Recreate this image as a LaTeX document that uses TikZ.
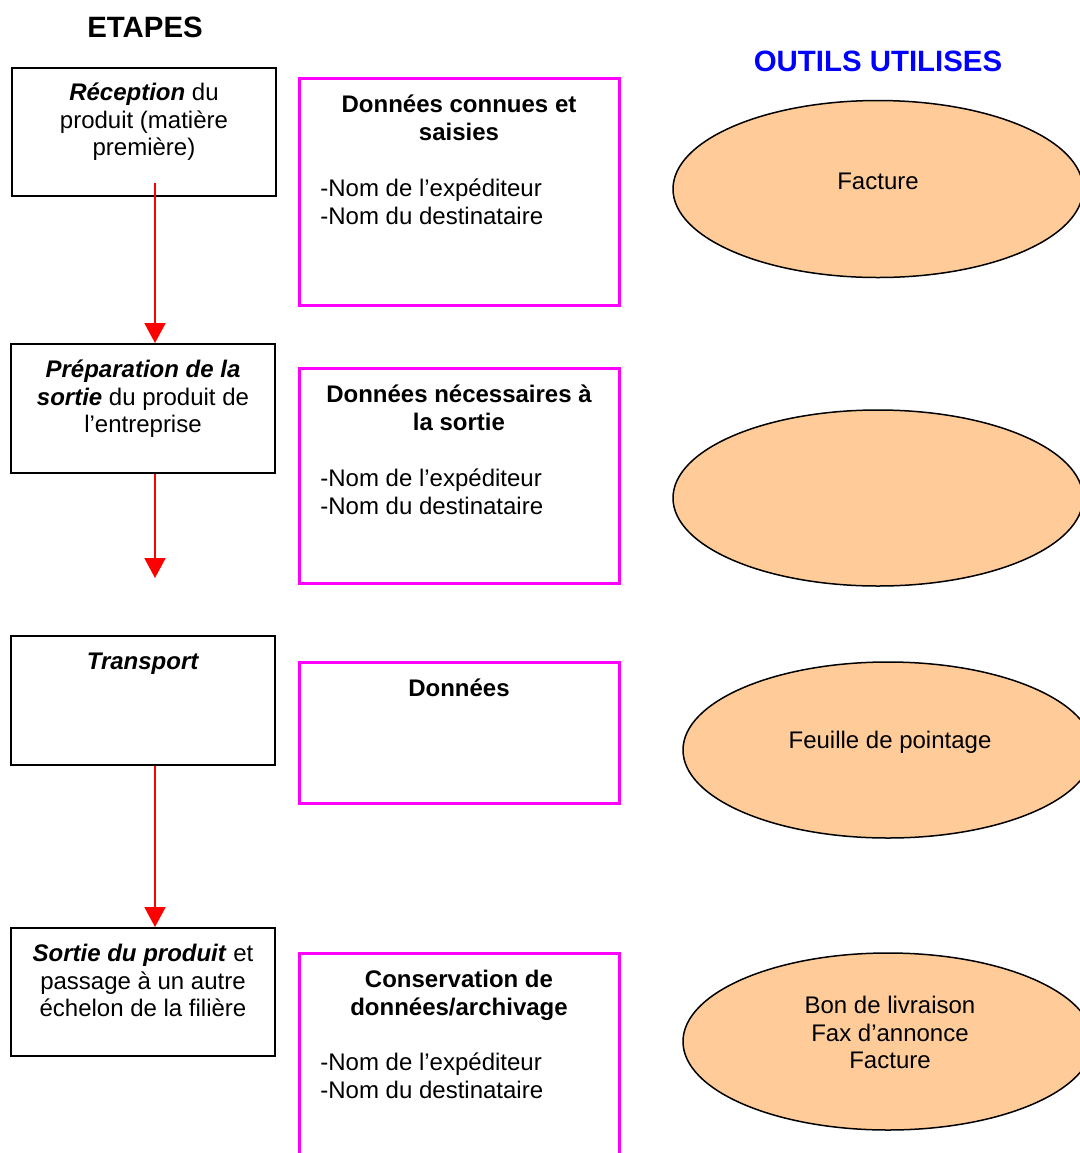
\documentclass[tikz,border=0pt]{standalone}
\usepackage{fontspec}
\setmainfont{Liberation Sans}
\usetikzlibrary{arrows.meta,shapes.geometric}
\definecolor{peach}{RGB}{255,204,153}
\definecolor{framemag}{RGB}{255,0,255}
\definecolor{headblue}{RGB}{0,0,255}

\begin{document}
\begin{tikzpicture}[x=0.5pt,y=-0.5pt,
  every node/.style={font=\fontsize{12pt}{13.8pt}\selectfont, inner sep=0pt},
  stepbox/.style={rectangle, draw=black, line width=1pt, minimum width=132pt},
  databox/.style={rectangle, draw=framemag, line width=1.5pt, minimum width=160pt},
  toolell/.style={ellipse, draw=black, line width=0.75pt, fill=peach, minimum width=205pt},
  flow/.style={draw=red, line width=1pt, -{Triangle[width=10.5pt,length=10pt]}},
  txt/.style={align=center, anchor=north},
  lst/.style={align=left, anchor=north west},
  heading/.style={font=\fontsize{14.7pt}{16pt}\selectfont\bfseries, anchor=base}
]
\clip (0,0) rectangle (1080,1153);

% column headings
\node[heading] (hsteps) at (145,37) {ETAPES};
\node[heading, text=headblue] (htools) at (878,71) {OUTILS UTILISES};

% steps (left column)
\node[stepbox, minimum height=64pt] (r1) at (144,132) {};
\node[stepbox, minimum height=64.5pt] (r2) at (143,408.5) {};
\node[stepbox, minimum height=64.5pt] (r3) at (143,700.5) {};
\node[stepbox, minimum height=64pt] (r4) at (143,992) {};

\node[txt] (t1) at (144,81) {\strut\textbf{\textit{Réception}} du\\produit (matière\\première)};
\node[txt] (t2) at (143,358) {\strut\textbf{\textit{Préparation de la}}\\\textbf{\textit{sortie}} du produit de\\l’entreprise};
\node[txt] (t3) at (143,650) {\strut\textbf{\textit{Transport}}};
\node[txt] (t4) at (143,942) {\strut\textbf{\textit{Sortie du produit}} et\\passage à un autre\\échelon de la filière};

% flow between steps
\coordinate (a1) at (155,183);
\coordinate (a2) at (155,578);
\draw[flow] (a1) -- (a1 |- r2.north);
\draw[flow] (a2 |- r2.south) -- (a2);
\draw[flow] (r3.south -| a1) -- (r4.north -| a1);

% data frames (middle column)
\node[databox, minimum height=113.5pt] (d1) at (459,191.5) {};
\node[databox, minimum height=107.5pt] (d2) at (459,475.5) {};
\node[databox, minimum height=70.5pt] (d3) at (459,732.5) {};
\node[databox, minimum height=111pt] (d4) at (459,1064) {};

\node[txt, font=\fontsize{12pt}{13.8pt}\selectfont\bfseries] (d1t) at (459,92.7) {\strut Données connues et\\saisies};
\node[lst] (d1l) at (320,176.7) {\strut -Nom de l’expéditeur\\-Nom du destinataire};
\node[txt, font=\fontsize{12pt}{13.8pt}\selectfont\bfseries] (d2t) at (459,382.7) {\strut Données nécessaires à\\la sortie};
\node[lst] (d2l) at (320,466.7) {\strut -Nom de l’expéditeur\\-Nom du destinataire};
\node[txt, font=\fontsize{12pt}{13.8pt}\selectfont\bfseries] (d3t) at (459,676.7) {\strut Données};
\node[txt, font=\fontsize{12pt}{13.8pt}\selectfont\bfseries] (d4t) at (459,967.7) {\strut Conservation de\\données/archivage};
\node[lst] (d4l) at (320,1050.7) {\strut -Nom de l’expéditeur\\-Nom du destinataire};

% tools (right column)
\node[toolell, minimum height=88.5pt] (e1) at (878,189) {};
\node[toolell, minimum height=88pt] (e2) at (878,498) {};
\node[toolell, minimum height=88pt] (e3) at (888,750) {};
\node[toolell, minimum height=88.5pt] (e4) at (888,1041.5) {};

\node[anchor=base] (e1t) at (878,189) {Facture};
\node[anchor=base] (e3t) at (890,748) {Feuille de pointage};
\node[txt] (e4t) at (890,993.7) {\strut Bon de livraison\\Fax d’annonce\\Facture};
\end{tikzpicture}
\end{document}
